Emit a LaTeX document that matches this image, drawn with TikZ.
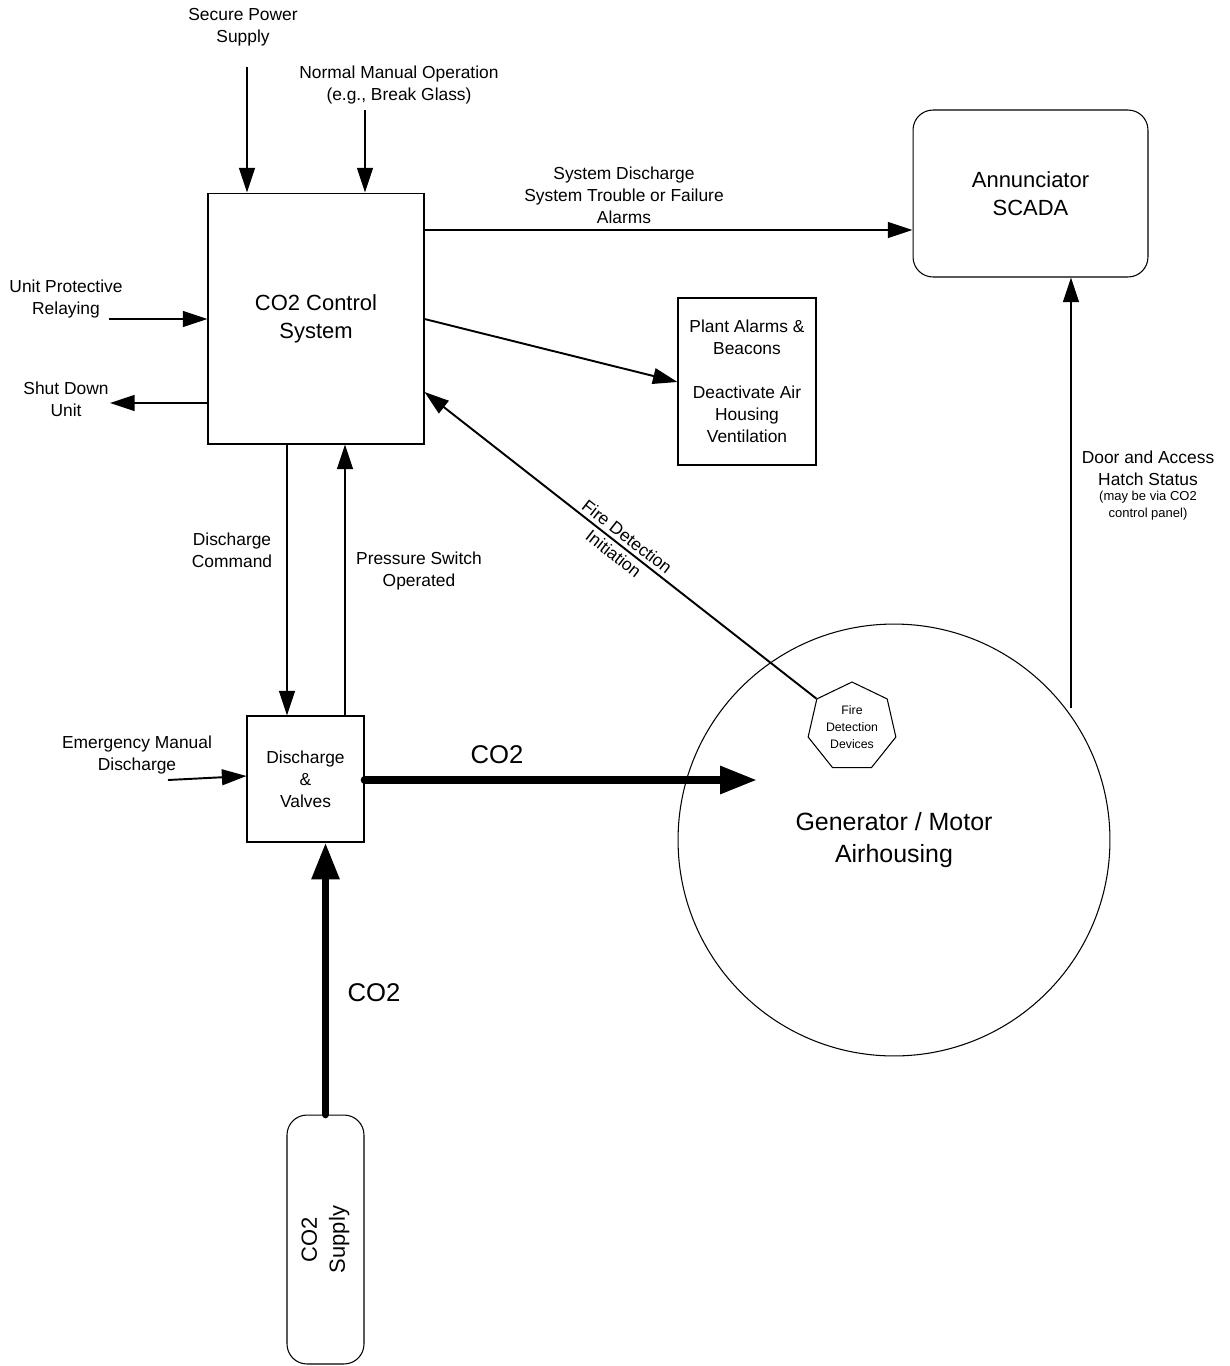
\documentclass[tikz,border=0pt]{standalone}
\usepackage{fontspec}
\setmainfont{Liberation Sans}
\usetikzlibrary{arrows.meta,shapes.geometric}
\newcommand\lblfont{\fontsize{9.9}{12.5}\selectfont}
\newcommand\bigfnt{\fontsize{12.5}{15.9}\selectfont}
\newcommand\genfnt{\fontsize{14.2}{18}\selectfont}
\newcommand\cofnt{\fontsize{14.6}{18}\selectfont}
\newcommand\smallfnt{\fontsize{7}{9.6}\selectfont}
\newcommand\notefnt{\fontsize{7.4}{9.6}\selectfont}
\begin{document}
\begin{tikzpicture}[x=0.02cm,y=-0.02cm,
  box/.style={draw, line width=0.6pt, inner sep=0pt, align=center},
  lbl/.style={align=center, inner sep=0pt, font=\lblfont},
  arr/.style={line width=1.1pt, -{Triangle[length=14pt,width=9pt]}},
  fat/.style={line width=4.4pt, line cap=round, -{Triangle[length=21pt,width=15pt]}}]
\useasboundingbox (0,0) rectangle (1230,1366);

% boxes
\node[box, minimum width=4.32cm, minimum height=5.02cm, font=\bigfnt] (ctrl) at (316,318.5) {CO2 Control\\System};
\node[box, minimum width=2.76cm, minimum height=3.34cm, font=\lblfont] (plant) at (747,381.5) {Plant Alarms \&\\Beacons\\[12.5pt]Deactivate Air\\Housing\\Ventilation};
\node[box, rounded corners=0.4cm, minimum width=4.7cm, minimum height=3.34cm, font=\bigfnt] (annun) at (1030.5,193.5) {Annunciator\\SCADA};
\node[box, minimum width=2.34cm, minimum height=2.52cm, font=\lblfont] (valves) at (305.5,779) {Discharge\\\&\\Valves};
\node[box, rounded corners=0.4cm, rotate=90, minimum width=4.98cm, minimum height=1.54cm, font=\bigfnt] (supply) at (325.5,1239.5) {CO2\\Supply};
\node[draw, circle, line width=0.6pt, minimum size=8.64cm, inner sep=0pt, align=center, font=\genfnt] (circ) at (894,840) {Generator / Motor\\Airhousing};
\node[draw, regular polygon, regular polygon sides=7, line width=0.6pt, minimum size=1.8cm, inner sep=0pt, align=center, font=\smallfnt] (fdd) at (852,727) {Fire\\Detection\\Devices};

% labels
\node[lbl] (lsp) at (243,27) {Secure Power\\Supply};
\node[lbl] (lnm) at (399,85) {Normal Manual Operation\\(e.g., Break Glass)};
\node[lbl] (lup) at (66,299) {Unit Protective\\Relaying};
\node[lbl] (lsd) at (66,399) {Shut Down\\Unit};
\node[lbl] (lsys) at (624,195) {System Discharge\\System Trouble or Failure\\Alarms};
\node[lbl] (ldoor) at (1148,468) {Door and Access\\Hatch Status};
\node[align=center, inner sep=0pt, font=\notefnt] (lnote) at (1148,506) {(may be via CO2\\control panel)};
\node[lbl] (ldc) at (232,550) {Discharge\\Command};
\node[lbl] (lps) at (419,571) {Pressure Switch\\Operated};
\node[lbl] (lem) at (137,755) {Emergency Manual\\Discharge};
\node[inner sep=0pt, font=\cofnt] (lco2a) at (497,755) {CO2};
\node[inner sep=0pt, font=\cofnt] (lco2b) at (374,993) {CO2};

% free ends
\coordinate (sps) at (247,67);
\coordinate (nmo) at (365,110);
\coordinate (upr) at (109,319);
\coordinate (sdu) at (110,403);
\coordinate (emd) at (168,780);
\coordinate (co2tip) at (757,780);
\coordinate (door) at (1071,708);

% connectors
\draw[arr] (sps) -- (sps |- ctrl.north);
\draw[arr] (nmo) -- (nmo |- ctrl.north);
\draw[arr] (upr) -- (upr -| ctrl.west);
\draw[arr] (sdu -| ctrl.west) -- (sdu);
\draw[arr] (ctrl.east |- 0,230) -- (annun.west |- 0,230);
\draw[arr] (ctrl.east |- 0,319) -- (plant.west |- 0,382);
\draw[arr] (fdd.corner 2) -- node[sloped, lbl, midway] {Fire Detection\\Initiation} (ctrl.east |- 0,392);
\draw[arr] (door) -- (door |- annun.south);
\draw[arr] (ctrl.south -| 287,0) -- (valves.north -| 287,0);
\draw[arr] (valves.north -| 345,0) -- (ctrl.south -| 345,0);
\draw[arr] (emd) -- (valves.west |- 0,776);
\draw[fat] (valves.east |- co2tip) -- (co2tip);
\draw[fat] (supply.east) -- (supply.east |- valves.south);
\end{tikzpicture}
\end{document}
